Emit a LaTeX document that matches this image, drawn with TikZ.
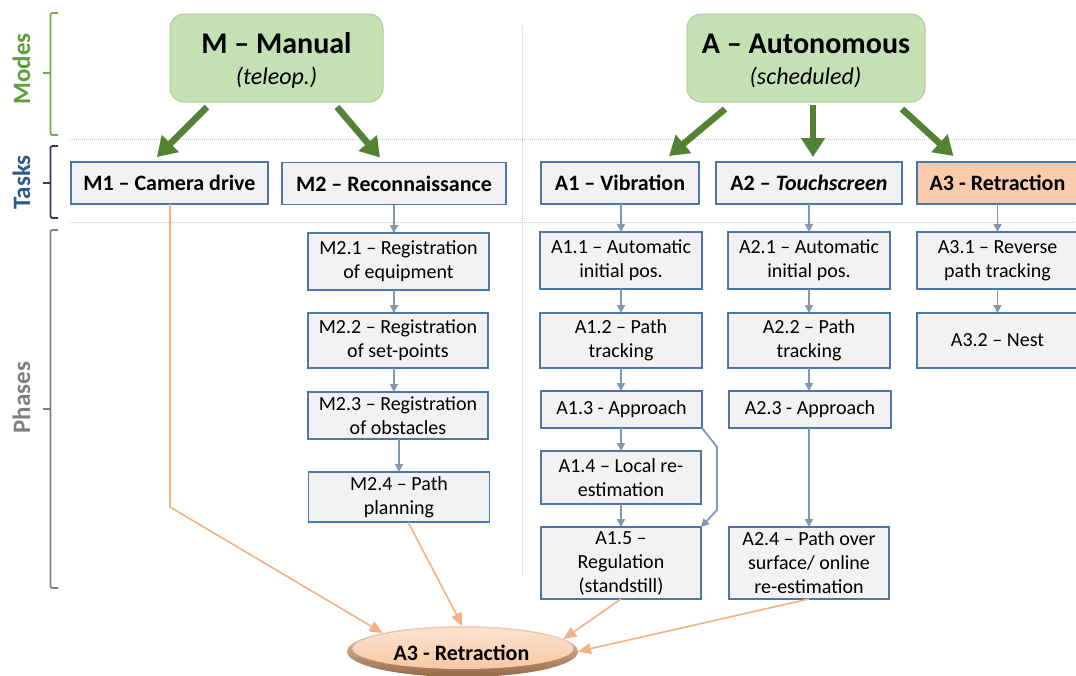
\documentclass[tikz,border=0pt]{standalone}
\usepackage{fontspec}
\setmainfont{Carlito}
\usetikzlibrary{arrows.meta,calc,shapes.geometric}

\definecolor{boxfill}{HTML}{F2F2F2}
\definecolor{boxline}{HTML}{4A76A8}
\definecolor{modefill}{HTML}{C5E0B4}
\definecolor{modeline}{HTML}{A9D18E}
\definecolor{modearrow}{HTML}{548235}
\definecolor{flowline}{HTML}{8497B0}
\definecolor{retract}{HTML}{F4B183}
\definecolor{retractfill}{HTML}{F8CBAD}
\definecolor{gridline}{HTML}{C4C4C4}
\definecolor{modelabel}{HTML}{5F9E3D}
\definecolor{modebracket}{HTML}{70AD47}
\definecolor{tasklabel}{HTML}{2E5A87}
\definecolor{taskbracket}{HTML}{2F3F55}
\definecolor{phaselabel}{HTML}{7F7F7F}

\begin{document}
\begin{tikzpicture}[x=1pt,y=-1pt,
  phase/.style 2 args={draw=boxline, fill=boxfill, line width=1.2pt, inner sep=0pt, outer sep=0pt,
    align=center, font=\fontsize{20}{24}\selectfont, minimum width=#1, minimum height=#2},
  task/.style={draw=boxline, fill=boxfill, line width=1.2pt, inner sep=0pt, outer sep=0pt,
    font=\fontsize{22}{26}\selectfont\bfseries, minimum height=42pt},
  mode/.style={draw=modeline, fill=modefill, line width=1pt, rounded corners=14pt,
    minimum height=88pt, inner sep=0pt, outer sep=0pt},
  modetitle/.style={anchor=base, inner sep=0pt, font=\fontsize{30}{36}\selectfont\bfseries},
  modesub/.style={anchor=base, inner sep=0pt, font=\fontsize{24}{28}\selectfont\itshape},
  sidelabel/.style={rotate=90, anchor=base, inner sep=0pt, font=\fontsize{25}{30}\selectfont\bfseries},
  bracket/.style={line width=1.8pt, rounded corners=2pt},
  gridrule/.style={draw=gridline, line width=0.9pt, dash pattern=on 1pt off 1pt},
  modestep/.style={draw=modearrow, line width=6.5pt, -{Triangle[length=19pt,width=23pt]}},
  flow/.style={draw=flowline, line width=1.8pt, -{Triangle[length=8pt,width=8pt]}},
  back/.style={draw=retract, line width=1.6pt, -{Triangle[length=13pt,width=11pt]}}
]
\clip (0,0) rectangle (1076,675);
\fill[white] (0,0) rectangle (1076,675);

% row separators and column separator
\draw[gridrule] (70,139.5) -- (1076,139.5);
\draw[gridrule] (70,222) -- (1076,222);
\draw[gridrule] (522,26) -- (522,575);

% side labels with brackets
\node[sidelabel, text=modelabel] (lblModes) at (30,69) {Modes};
\node[sidelabel, text=tasklabel] (lblTasks) at (30,182.5) {Tasks};
\node[sidelabel, text=phaselabel] (lblPhases) at (30,397.5) {Phases};
\draw[bracket, modebracket] (58,13) -- (50.5,13) -- (50.5,135) -- (58,135);
\draw[bracket, modebracket] (50.5,73) -- (43,73);
\draw[bracket, taskbracket] (58,146) -- (50.5,146) -- (50.5,218) -- (58,218);
\draw[bracket, taskbracket] (50.5,183) -- (43,183);
\draw[bracket, phaselabel] (58,230) -- (50.5,230) -- (50.5,588) -- (58,588);
\draw[bracket, phaselabel] (50.5,409) -- (43,409);

% modes
\node[mode, minimum width=213pt] (M) at (276.5,58) {};
\node[modetitle] (Mtitle) at (276.5,53) {M – Manual};
\node[modesub] (Msub) at (276.5,84) {(teleop.)};
\node[mode, minimum width=238pt] (A) at (806,58) {};
\node[modetitle] (Atitle) at (806,53) {A – Autonomous};
\node[modesub] (Asub) at (805.5,84) {(scheduled)};

% tasks
\node[task, minimum width=197pt] (M1) at (169.4,183) {M1 – Camera drive};
\node[task, minimum width=224pt] (M2) at (394,183.5) {M2 – Reconnaissance};
\node[task, minimum width=158pt] (A1) at (620,183) {A1 – Vibration};
\node[task, minimum width=186pt] (A2) at (809,183) {A2 – \textit{Touchscreen}};
\node[task, minimum width=161pt, fill=retractfill] (A3) at (997.5,183) {A3 - Retraction};

% phases of M2
\node[phase={181pt}{57pt}] (M21) at (398.5,261.5) {M2.1 – Registration\\of equipment};
\node[phase={180pt}{55pt}] (M22) at (398,340.5) {M2.2 – Registration\\of set-points};
\node[phase={180pt}{47pt}] (M23) at (398,415.5) {M2.3 – Registration\\of obstacles};
\node[phase={181pt}{50pt}] (M24) at (399,497) {M2.4 – Path\\planning};

% phases of A1
\node[phase={162pt}{57pt}] (A11) at (621,260.5) {A1.1 – Automatic\\initial pos.};
\node[phase={162pt}{55pt}] (A12) at (621,340.5) {A1.2 – Path\\tracking};
\node[phase={161pt}{37pt}] (A13) at (621.5,409.5) {A1.3 - Approach};
\node[phase={160pt}{53pt}] (A14) at (621,477.5) {A1.4 – Local re-\\estimation};
\node[phase={160pt}{72pt}] (A15) at (621,563) {A1.5 –\\Regulation\\(standstill)};

% phases of A2
\node[phase={162pt}{57pt}] (A21) at (809,260.5) {A2.1 – Automatic\\initial pos.};
\node[phase={162pt}{55pt}] (A22) at (809,340.5) {A2.2 – Path\\tracking};
\node[phase={162pt}{37pt}] (A23) at (810,409.5) {A2.3 - Approach};
\node[phase={160pt}{72pt}] (A24) at (809,563) {A2.4 – Path over\\surface/ online\\re-estimation};

% phases of A3
\node[phase={161pt}{57pt}] (A31) at (997.5,260.5) {A3.1 – Reverse\\path tracking};
\node[phase={161pt}{55pt}] (A32) at (997.5,340.5) {A3.2 – Nest};

% shared retraction target
\node[ellipse, minimum width=231pt, minimum height=51pt, inner sep=0pt, outer sep=0pt,
      top color=retractfill!90!white, bottom color=black!45!retract!80!brown] (E) at (462.5,651.5) {};
\node[ellipse, minimum width=221pt, minimum height=41pt, inner sep=0pt, outer sep=0pt,
      top color=white!45!retractfill, bottom color=retractfill!95!orange] (Ein) at (463,648.5) {};
\node[anchor=base, inner sep=0pt, font=\fontsize{22}{26}\selectfont\bfseries] (Etext) at (461.5,660) {A3 - Retraction};

% mode to task arrows
\draw[modestep] ($(M.south)+(-69.5,5)$) -- ($(M1.north)+(-12.5,-5)$);
\draw[modestep] ($(M.south)+(60.5,5)$) -- ($(M2.north)+(-14,-5)$);
\draw[modestep] ($(A.south)+(-81,7)$) -- ($(A1.north)+(49,-6)$);
\draw[modestep] ($(A.south)+(7,3)$) -- ($(A2.north)+(4,-5)$);
\draw[modestep] ($(A.south)+(96,7)$) -- ($(A3.north)+(-44,-6)$);

% sequencing inside tasks
\draw[flow] (M2.south) -- (M2.south |- M21.north);
\draw[flow] (M21.south -| M2.south) -- (M2.south |- M22.north);
\draw[flow] (M22.south -| M2.south) -- (M2.south |- M23.north);
\draw[flow] (M23.south -| M24.north) -- (M24.north);
\draw[flow] (A11.south |- A1.south) -- (A11.north);
\draw[flow] (A11.south) -- (A12.north);
\draw[flow] (A12.south) -- (A12.south |- A13.north);
\draw[flow] (A14.north |- A13.south) -- (A14.north);
\draw[flow] (A14.south) -- (A15.north);
\draw[flow] (A13.south east) -- ++(15,19) -- ++(0,63) -- (A15.north east);
\draw[flow] (A2.south) -- (A21.north);
\draw[flow] (A21.south) -- (A22.north);
\draw[flow] (A22.south) -- (A22.south |- A23.north);
\draw[flow] (A24.north |- A23.south) -- (A24.north);
\draw[flow] (A3.south) -- (A31.north);
\draw[flow] (A31.south) -- (A32.north);

% retraction links
\coordinate (M1bend) at (170,507);
\draw[back] (M1.south -| M1bend) -- (M1bend) -- (E.167.8);
\draw[back] ($(M24.south)+(9,0)$) -- (E.90);
\draw[back] (A15.south) -- (E.7);
\draw[back] (A24.south) -- (E.0);
\end{tikzpicture}
\end{document}
